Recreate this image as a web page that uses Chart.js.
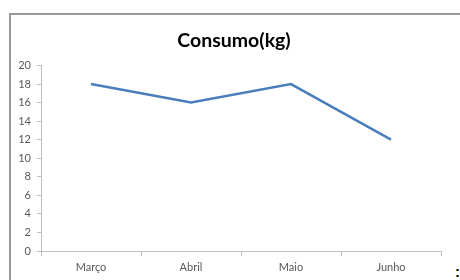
<!DOCTYPE html>
<html>
<head>
<meta charset="utf-8">
<script src="https://cdn.jsdelivr.net/npm/chart.js@4/dist/chart.umd.min.js"></script>
<style>
  html, body { margin: 0; padding: 0; background: #fff; }
  #wrap { position: relative; width: 460px; height: 280px; overflow: hidden; }
  #frame {
    position: absolute; left: 9px; top: 13px; width: 460px; height: 300px;
    border-left: 2px solid #999; border-top: 2px solid #999;
  }
  #colon {
    position: absolute; left: 455px; top: 263px;
    font: bold 15px "Liberation Sans", sans-serif; color: #000;
  }
  canvas { position: absolute; left: 0; top: 0; }
</style>
</head>
<body>
<div id="wrap">
  <div id="frame"></div>
  <span id="colon">:</span>
  <canvas id="consumoChart" width="460" height="280"></canvas>
</div>
<script>
const meses = ['Março', 'Abril', 'Maio', 'Junho'];
const consumo = [18, 16, 18, 12];
const yMin = 0;
const yMax = 20;
const yStep = 2;
const titulo = 'Consumo(kg)';

const tickFont = { family: 'Lato, "Open Sans", sans-serif', size: 11 };

// título desenhado à mão, centrado como no original (um pouco à direita do meio do gráfico)
const tituloPlugin = {
  id: 'tituloConsumo',
  afterDraw(chart) {
    const ctx = chart.ctx;
    ctx.save();
    ctx.font = 'bold 19.5px Lato, "Open Sans", sans-serif';
    ctx.fillStyle = '#000';
    ctx.textAlign = 'center';
    ctx.textBaseline = 'middle';
    ctx.fillText(titulo, 234, 41);
    ctx.restore();
  },
};

new Chart(document.getElementById('consumoChart').getContext('2d'), {
  type: 'line',
  data: {
    labels: meses,
    datasets: [{
      label: titulo,
      data: consumo,
      borderColor: '#4a7ebb',
      borderWidth: 2.5,
      pointRadius: 0,
      tension: 0,
      fill: false,
    }],
  },
  options: {
    responsive: false,
    animation: false,
    layout: { padding: { top: 65.5, left: 0, right: 19, bottom: 0 } },
    scales: {
      x: {
        offset: true,
        grid: { offset: true, drawOnChartArea: false, drawTicks: true, tickLength: 5, color: '#bfbfbf' },
        border: { color: '#bfbfbf' },
        ticks: { color: '#595959', font: tickFont, padding: 5, maxRotation: 0 },
        afterFit: (scale) => { scale.height = 29; },
      },
      y: {
        min: yMin,
        max: yMax,
        grid: { drawOnChartArea: false, drawTicks: true, tickLength: 4, color: '#bfbfbf' },
        border: { color: '#bfbfbf' },
        ticks: { stepSize: yStep, color: '#595959', font: tickFont, padding: 6 },
        afterFit: (scale) => { scale.width = 41; },
      },
    },
    plugins: {
      legend: { display: false },
      tooltip: { enabled: false },
      title: { display: false },
    },
  },
  plugins: [tituloPlugin],
});
</script>
</body>
</html>
